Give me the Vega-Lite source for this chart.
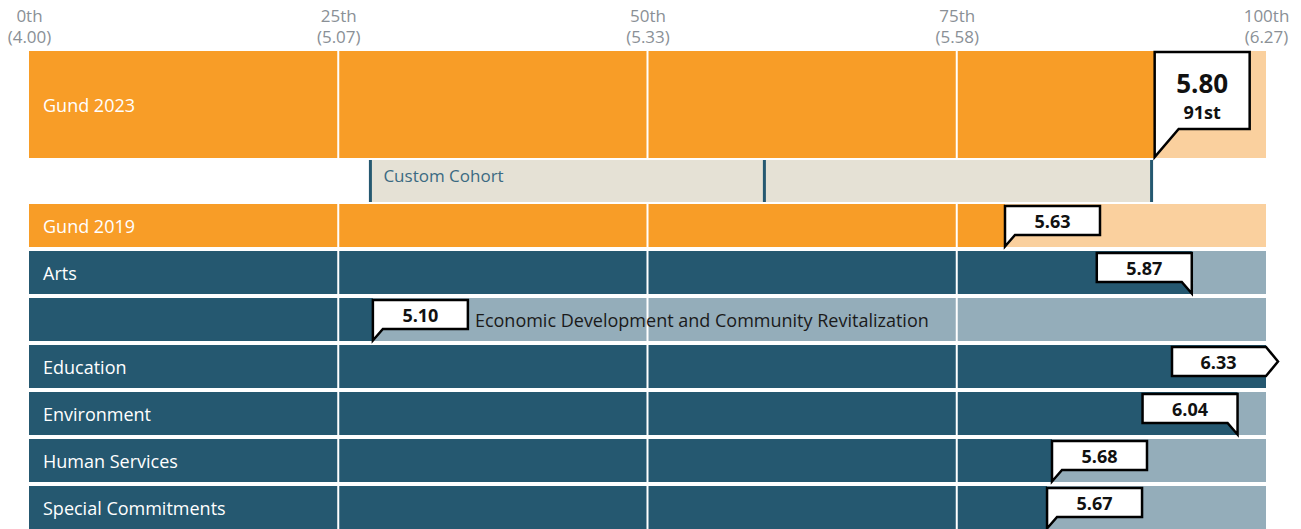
{
  "$schema": "https://vega.github.io/schema/vega-lite/v6.json",
  "padding": {"left": 7, "top": 7, "right": 0, "bottom": 0},
  "config": {"view": {"stroke": null}, "font": "Open Sans"},
  "spacing": 2,
  "bounds": "flush",
  "vconcat": [
    {
      "width": 1237,
      "height": 107,
      "data": {"values": [{"row": "Gund 2023", "value": 5.80, "pct": 91, "rank": "91st"}]},
      "resolve": {"axis": {"x": "independent"}},
      "layer": [
        {
          "mark": {"type": "bar", "color": "#FAD09E"},
          "encoding": {
            "y": {"field": "row", "type": "nominal", "axis": null, "scale": {"type": "band", "paddingInner": 0, "paddingOuter": 0}},
            "x": {"datum": 100, "type": "quantitative", "scale": {"domain": [0, 100], "nice": false},
              "axis": {"orient": "top", "values": [0, 25, 50, 75, 100], "title": null, "domain": false, "ticks": false, "tickSize": 0, "grid": false, "labelPadding": 5, "labelFontSize": 17, "labelFont": "Open Sans", "labelColor": "#8a9096", "labelFlush": false, "labelOverlap": false,
                "labelExpr": "datum.value == 0 ? '(4.00)' : datum.value == 25 ? '(5.07)' : datum.value == 50 ? '(5.33)' : datum.value == 75 ? '(5.58)' : '(6.27)'"}}
          }
        },
        {
          "mark": {"type": "bar", "color": "#F89D27"},
          "encoding": {
            "y": {"field": "row", "type": "nominal", "axis": null, "scale": {"type": "band", "paddingInner": 0, "paddingOuter": 0}},
            "x": {"field": "pct", "type": "quantitative",
              "axis": {"orient": "top", "values": [0, 25, 50, 75, 100], "title": null, "domain": false, "ticks": false, "tickSize": 0, "grid": false, "offset": 20, "labelPadding": 6, "labelFontSize": 17, "labelFont": "Open Sans", "labelColor": "#8a9096", "labelFlush": false, "labelOverlap": false,
                "labelExpr": "datum.value + 'th'"}}
          }
        },
        {
          "data": {"values": [{"g": 25}, {"g": 50}, {"g": 75}]},
          "mark": {"type": "rule", "color": "white", "strokeWidth": 2},
          "encoding": {"x": {"field": "g", "type": "quantitative", "axis": null}}
        },
        {
          "mark": {"type": "text", "color": "white", "fontSize": 18, "align": "left", "baseline": "alphabetic", "dx": 14, "dy": 7},
          "encoding": {
            "y": {"field": "row", "type": "nominal", "axis": null, "scale": {"type": "band", "paddingInner": 0, "paddingOuter": 0}},
            "x": {"datum": 0, "type": "quantitative", "axis": null},
            "text": {"field": "row", "type": "nominal"}
          }
        },
        {
          "mark": {"type": "point", "shape": "M0,52.5L0,-52.5L95,-52.5L95,24.5L24,24.5Z", "size": 4, "fill": "white", "stroke": "black", "strokeWidth": 2.5, "opacity": 1, "fillOpacity": 1, "strokeOpacity": 1},
          "encoding": {
            "y": {"field": "row", "type": "nominal", "axis": null, "scale": {"type": "band", "paddingInner": 0, "paddingOuter": 0}},
            "x": {"field": "pct", "type": "quantitative", "axis": null}
          }
        },
        {
          "mark": {"type": "text", "color": "#111111", "fontSize": 26, "fontWeight": "bold", "align": "center", "baseline": "alphabetic", "dx": 47.5, "dy": -11.5},
          "encoding": {
            "y": {"field": "row", "type": "nominal", "axis": null, "scale": {"type": "band", "paddingInner": 0, "paddingOuter": 0}},
            "x": {"field": "pct", "type": "quantitative", "axis": null},
            "text": {"field": "value", "type": "quantitative", "format": ".2f"}
          }
        },
        {
          "mark": {"type": "text", "color": "#111111", "fontSize": 18, "fontWeight": "bold", "align": "center", "baseline": "alphabetic", "dx": 47.5, "dy": 14.5},
          "encoding": {
            "y": {"field": "row", "type": "nominal", "axis": null, "scale": {"type": "band", "paddingInner": 0, "paddingOuter": 0}},
            "x": {"field": "pct", "type": "quantitative", "axis": null},
            "text": {"field": "rank", "type": "nominal"}
          }
        }
      ]
    },
    {
      "width": 1237,
      "height": 42,
      "data": {"values": [{"row": "Custom Cohort", "low": 27.6, "median": 59.45, "high": 90.75}]},
      "layer": [
        {
          "mark": {"type": "bar", "color": "#E5E1D5"},
          "encoding": {
            "y": {"field": "row", "type": "nominal", "axis": null, "scale": {"type": "band", "paddingInner": 0, "paddingOuter": 0}},
            "x": {"field": "low", "type": "quantitative", "scale": {"domain": [0, 100], "nice": false}, "axis": null},
            "x2": {"field": "high"}
          }
        },
        {
          "mark": {"type": "rule", "color": "#255870", "strokeWidth": 3},
          "encoding": {"x": {"field": "low", "type": "quantitative"}}
        },
        {
          "mark": {"type": "rule", "color": "#255870", "strokeWidth": 3},
          "encoding": {"x": {"field": "median", "type": "quantitative"}}
        },
        {
          "mark": {"type": "rule", "color": "#255870", "strokeWidth": 3},
          "encoding": {"x": {"field": "high", "type": "quantitative"}}
        },
        {
          "mark": {"type": "text", "color": "#3b6a82", "fontSize": 17, "align": "left", "baseline": "alphabetic", "dx": 13, "dy": 1},
          "encoding": {
            "y": {"field": "row", "type": "nominal", "axis": null, "scale": {"type": "band", "paddingInner": 0, "paddingOuter": 0}},
            "x": {"field": "low", "type": "quantitative"},
            "text": {"field": "row", "type": "nominal"}
          }
        }
      ]
    },
    {
      "width": 1237,
      "height": 325,
      "data": {"values": [
        {"row": "Gund 2019", "group": "gund", "value": 5.63, "pct": 78.9},
        {"row": "Arts", "group": "sector", "value": 5.87, "pct": 94.0},
        {"row": "Economic Development and Community Revitalization", "group": "sector", "value": 5.10, "pct": 27.8},
        {"row": "Education", "group": "sector", "value": 6.33, "pct": 100},
        {"row": "Environment", "group": "sector", "value": 6.04, "pct": 97.7},
        {"row": "Human Services", "group": "sector", "value": 5.68, "pct": 82.7},
        {"row": "Special Commitments", "group": "sector", "value": 5.67, "pct": 82.3}
      ]},
      "layer": [
        {
          "mark": {"type": "bar"},
          "encoding": {
            "y": {"field": "row", "type": "nominal", "sort": null, "axis": null, "scale": {"type": "band", "paddingInner": 0.085, "paddingOuter": 0}},
            "x": {"datum": 100, "type": "quantitative", "scale": {"domain": [0, 100], "nice": false}, "axis": null},
            "color": {"condition": {"test": "datum.group == 'gund'", "value": "#FAD09E"}, "value": "#94ADBA"}
          }
        },
        {
          "mark": {"type": "bar"},
          "encoding": {
            "y": {"field": "row", "type": "nominal", "sort": null, "axis": null, "scale": {"type": "band", "paddingInner": 0.085, "paddingOuter": 0}},
            "x": {"field": "pct", "type": "quantitative"},
            "color": {"condition": {"test": "datum.group == 'gund'", "value": "#F89D27"}, "value": "#255870"}
          }
        },
        {
          "data": {"values": [{"g": 25}, {"g": 50}, {"g": 75}]},
          "mark": {"type": "rule", "color": "white", "strokeWidth": 2},
          "encoding": {"x": {"field": "g", "type": "quantitative"}}
        },
        {
          "transform": [{"filter": "datum.pct > 40"}],
          "mark": {"type": "text", "color": "white", "fontSize": 18, "align": "left", "baseline": "alphabetic", "dx": 14, "dy": 7.5},
          "encoding": {
            "y": {"field": "row", "type": "nominal", "sort": null, "axis": null, "scale": {"type": "band", "paddingInner": 0.085, "paddingOuter": 0}},
            "x": {"datum": 0, "type": "quantitative"},
            "text": {"field": "row", "type": "nominal"}
          }
        },
        {
          "transform": [{"filter": "datum.pct <= 40"}],
          "mark": {"type": "text", "color": "#1a1a1a", "fontSize": 18, "align": "left", "baseline": "alphabetic", "dx": 102, "dy": 7.5},
          "encoding": {
            "y": {"field": "row", "type": "nominal", "sort": null, "axis": null, "scale": {"type": "band", "paddingInner": 0.085, "paddingOuter": 0}},
            "x": {"field": "pct", "type": "quantitative"},
            "text": {"field": "row", "type": "nominal"}
          }
        },
        {
          "transform": [{"filter": "datum.value <= 6.27 && datum.pct < 92"}],
          "mark": {"type": "point", "shape": "M0,21L0,-19.5L95,-19.5L95,9.5L10,9.5Z", "size": 4, "fill": "white", "stroke": "black", "strokeWidth": 2.5, "opacity": 1, "fillOpacity": 1, "strokeOpacity": 1},
          "encoding": {
            "y": {"field": "row", "type": "nominal", "sort": null, "axis": null, "scale": {"type": "band", "paddingInner": 0.085, "paddingOuter": 0}},
            "x": {"field": "pct", "type": "quantitative"}
          }
        },
        {
          "transform": [{"filter": "datum.value <= 6.27 && datum.pct < 92"}],
          "mark": {"type": "text", "color": "#111111", "fontSize": 18, "fontWeight": "bold", "align": "center", "baseline": "alphabetic", "dx": 47.5, "dy": 2.5},
          "encoding": {
            "y": {"field": "row", "type": "nominal", "sort": null, "axis": null, "scale": {"type": "band", "paddingInner": 0.085, "paddingOuter": 0}},
            "x": {"field": "pct", "type": "quantitative"},
            "text": {"field": "value", "type": "quantitative", "format": ".2f"}
          }
        },
        {
          "transform": [{"filter": "datum.value <= 6.27 && datum.pct >= 92"}],
          "mark": {"type": "point", "shape": "M0,21L-10,9.5L-95,9.5L-95,-19.5L0,-19.5Z", "size": 4, "fill": "white", "stroke": "black", "strokeWidth": 2.5, "opacity": 1, "fillOpacity": 1, "strokeOpacity": 1},
          "encoding": {
            "y": {"field": "row", "type": "nominal", "sort": null, "axis": null, "scale": {"type": "band", "paddingInner": 0.085, "paddingOuter": 0}},
            "x": {"field": "pct", "type": "quantitative"}
          }
        },
        {
          "transform": [{"filter": "datum.value <= 6.27 && datum.pct >= 92"}],
          "mark": {"type": "text", "color": "#111111", "fontSize": 18, "fontWeight": "bold", "align": "center", "baseline": "alphabetic", "dx": -47.5, "dy": 2.5},
          "encoding": {
            "y": {"field": "row", "type": "nominal", "sort": null, "axis": null, "scale": {"type": "band", "paddingInner": 0.085, "paddingOuter": 0}},
            "x": {"field": "pct", "type": "quantitative"},
            "text": {"field": "value", "type": "quantitative", "format": ".2f"}
          }
        },
        {
          "transform": [{"filter": "datum.value > 6.27"}],
          "mark": {"type": "point", "shape": "M-94,-19.5L0,-19.5L12,-5L0,9.5L-94,9.5Z", "size": 4, "fill": "white", "stroke": "black", "strokeWidth": 2.5, "opacity": 1, "fillOpacity": 1, "strokeOpacity": 1},
          "encoding": {
            "y": {"field": "row", "type": "nominal", "sort": null, "axis": null, "scale": {"type": "band", "paddingInner": 0.085, "paddingOuter": 0}},
            "x": {"field": "pct", "type": "quantitative"}
          }
        },
        {
          "transform": [{"filter": "datum.value > 6.27"}],
          "mark": {"type": "text", "color": "#111111", "fontSize": 18, "fontWeight": "bold", "align": "center", "baseline": "alphabetic", "dx": -47.5, "dy": 2.5},
          "encoding": {
            "y": {"field": "row", "type": "nominal", "sort": null, "axis": null, "scale": {"type": "band", "paddingInner": 0.085, "paddingOuter": 0}},
            "x": {"field": "pct", "type": "quantitative"},
            "text": {"field": "value", "type": "quantitative", "format": ".2f"}
          }
        }
      ]
    }
  ]
}
